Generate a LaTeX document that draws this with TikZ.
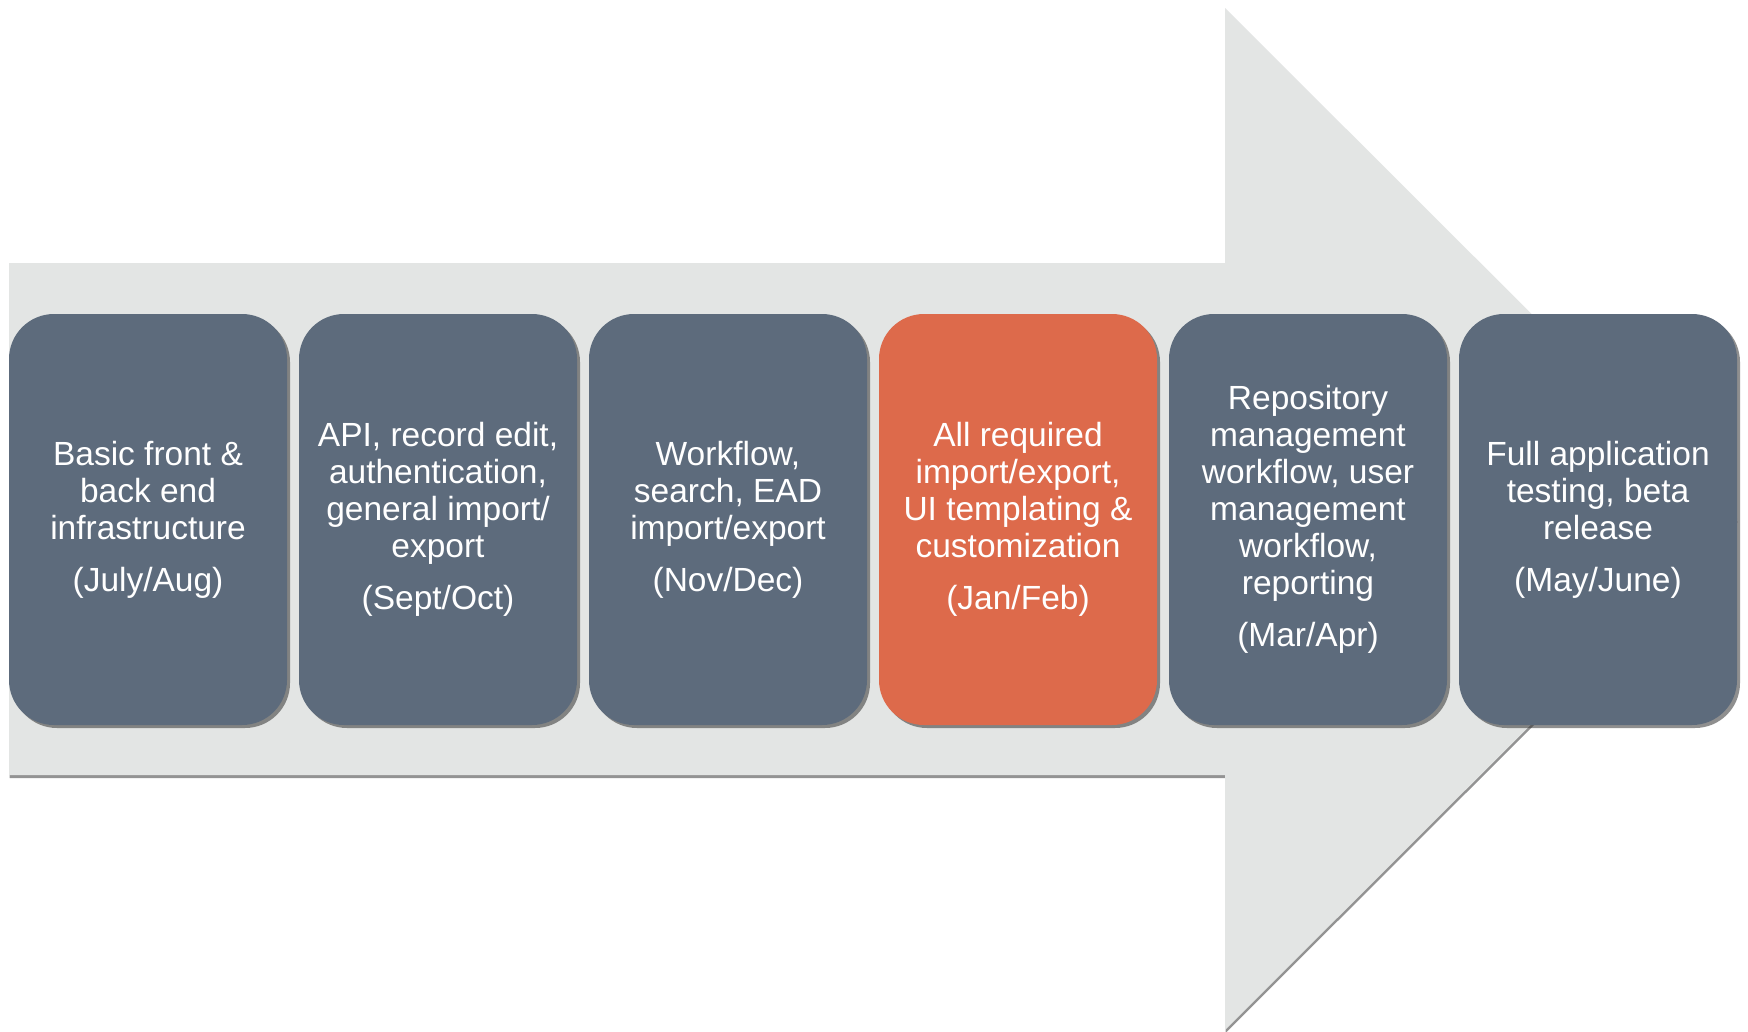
\documentclass[tikz,border=0pt]{standalone}
\usepackage{fontspec}
\setmainfont{Liberation Sans}
\usetikzlibrary{shadows}
\definecolor{arrowgray}{HTML}{E3E5E4}
\definecolor{slate}{HTML}{5D6B7C}
\definecolor{accent}{HTML}{DD6A4B}
\tikzset{
  phase/.style={rounded corners=45pt, fill=slate, minimum width=278pt, minimum height=411pt,
    text=white, align=center, inner sep=0pt, font=\fontsize{33.5}{37}\selectfont,
    drop shadow={shadow xshift=3pt, shadow yshift=-3pt, opacity=0.55, fill=black!80}},
  hot/.style={phase, fill=accent},
  bigarrow/.style={fill=arrowgray, draw=none,
    drop shadow={shadow xshift=0.5pt, shadow yshift=-3pt, opacity=0.6, fill=black!70}}
}
\begin{document}
\begin{tikzpicture}[x=1pt,y=-1pt]
\useasboundingbox (0,0) rectangle (1748,1031);
\fill[white] (0,0) rectangle (1748,1031);
\path[bigarrow] (9,263) -- (1225,263) -- (1225,8) -- (1737,519) -- (1225,1030) -- (1225,775) -- (9,775) -- cycle;
\node[phase] (p1) at (148,519.5) {Basic front \&\\back end\\infrastructure\\[15pt](July/Aug)};
\node[phase] (p2) at (438,519.5) {API, record edit,\\authentication,\\general import/\\export\\[15pt](Sept/Oct)};
\node[phase] (p3) at (728,519.5) {Workflow,\\search, EAD\\import/export\\[15pt](Nov/Dec)};
\node[hot] (p4) at (1018,519.5) {All required\\import/export,\\UI templating \&\\customization\\[15pt](Jan/Feb)};
\node[phase] (p5) at (1308,519.5) {Repository\\management\\workflow, user\\management\\workflow,\\reporting\\[15pt](Mar/Apr)};
\node[phase] (p6) at (1598,519.5) {Full application\\testing, beta\\release\\[15pt](May/June)};
\end{tikzpicture}
\end{document}
